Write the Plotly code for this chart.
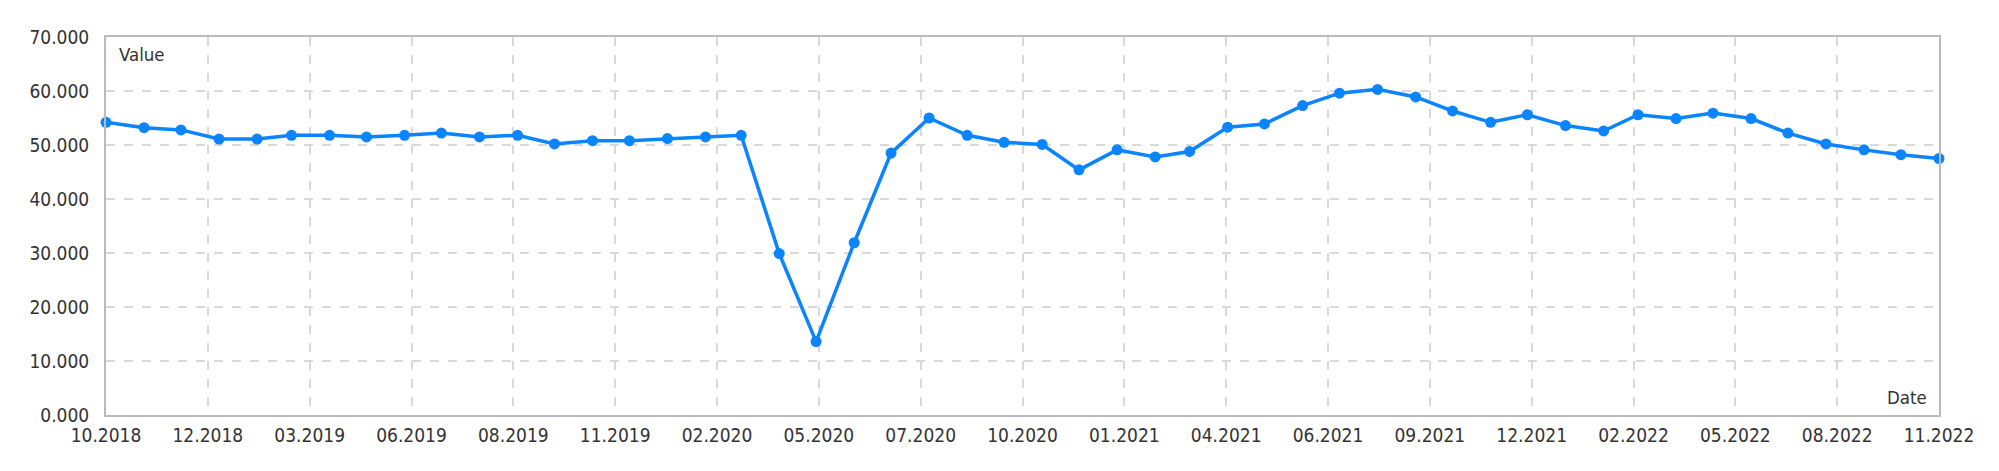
import plotly.graph_objects as go
import pandas as pd

dates = pd.date_range("2018-10-01", "2022-11-01", freq="MS")
values = [54.2, 53.2, 52.8, 51.1, 51.1, 51.8, 51.8, 51.5, 51.8, 52.2,
          51.5, 51.8, 50.2, 50.8, 50.8, 51.2, 51.5, 51.8, 29.9, 13.6,
          31.9, 48.5, 55.0, 51.8, 50.5, 50.1, 45.4, 49.1, 47.8, 48.8,
          53.3, 53.9, 57.3, 59.6, 60.3, 58.9, 56.3, 54.2, 55.6, 53.6,
          52.6, 55.6, 54.9, 55.9, 54.9, 52.2, 50.2, 49.1, 48.2, 47.5]
y_ticks = [0, 10, 20, 30, 40, 50, 60, 70]
y_tick_labels = ["0.000", "10.000", "20.000", "30.000", "40.000", "50.000", "60.000", "70.000"]
x_tick_labels = ["10.2018", "12.2018", "03.2019", "06.2019", "08.2019", "11.2019",
                 "02.2020", "05.2020", "07.2020", "10.2020", "01.2021", "04.2021",
                 "06.2021", "09.2021", "12.2021", "02.2022", "05.2022", "08.2022", "11.2022"]

start, end = dates[0], dates[-1]
n_int = len(x_tick_labels) - 1
x_tickvals = [start + (end - start) * i / n_int for i in range(n_int + 1)]

color = "#0a84ff"
font = "DejaVu Sans Condensed, Liberation Sans Narrow, DejaVu Sans, sans-serif"
tick_font = dict(family=font, size=19, color="#333333")

fig = go.Figure()
fig.add_trace(go.Scatter(
    x=dates, y=values, mode="lines+markers",
    line=dict(color=color, width=3.5),
    marker=dict(color=color, size=11),
    cliponaxis=False,
))

fig.update_layout(
    width=1999, height=471,
    margin=dict(l=98, r=68, t=29, b=64),
    paper_bgcolor="white", plot_bgcolor="white",
    showlegend=False,
    font=dict(family=font, size=18, color="#333333"),
    xaxis=dict(
        type="date", range=[start, end],
        tickvals=x_tickvals, ticktext=x_tick_labels,
        showgrid=True, gridcolor="#d9d9d9", griddash="dash", gridwidth=1.5,
        showline=True, linecolor="#bbbbbb", linewidth=2, mirror=True,
        ticks="", zeroline=False, ticklabelstandoff=2,
        tickfont=tick_font,
    ),
    yaxis=dict(
        range=[0, 70], tickvals=y_ticks, ticktext=y_tick_labels,
        showgrid=True, gridcolor="#d9d9d9", griddash="dash", gridwidth=1.5,
        showline=True, linecolor="#bbbbbb", linewidth=2, mirror=True,
        ticks="", zeroline=False, ticklabelstandoff=11,
        tickfont=tick_font,
    ),
    annotations=[
        dict(text="Value", xref="paper", yref="paper", x=0, y=1,
             xanchor="left", yanchor="top", xshift=11, yshift=-5,
             showarrow=False, font=dict(family=font, size=18.5, color="#333333")),
        dict(text="Date", xref="paper", yref="paper", x=1, y=0,
             xanchor="right", yanchor="bottom", xshift=-10, yshift=5,
             showarrow=False, font=dict(family=font, size=18.5, color="#333333")),
    ],
)

fig.write_html("out.html")
